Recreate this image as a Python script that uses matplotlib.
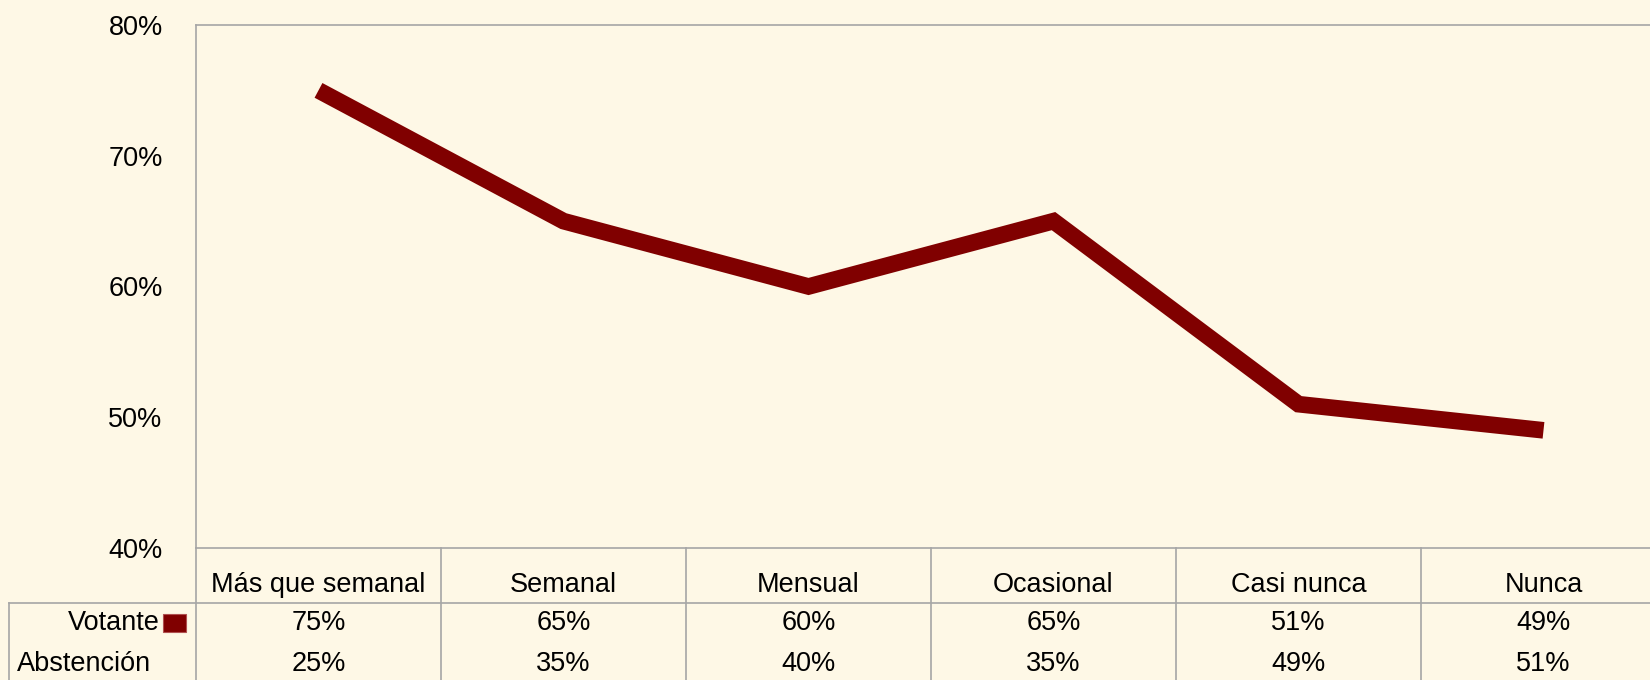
"""Votante / Abstención line chart with an Excel-style data table."""

import matplotlib
matplotlib.use("Agg")
import matplotlib.pyplot as plt
from matplotlib.transforms import blended_transform_factory
from matplotlib.lines import Line2D

categories = ["Más que semanal", "Semanal", "Mensual", "Ocasional", "Casi nunca", "Nunca"]
votante = [75, 65, 60, 65, 51, 49]
abstencion = [25, 35, 40, 35, 49, 51]
row_labels = ["Votante", "Abstención"]
y_ticks = [40, 50, 60, 70, 80]

BG = "#FEF8E6"
LINE = "#800000"
GRID = "#A6A6A6"
W, H = 1650, 680
FS = 19.5

plt.rcParams["font.family"] = ["Liberation Sans", "DejaVu Sans"]


def fy(px):
    return 1 - px / H


def fx(px):
    return px / W


fig = plt.figure(figsize=(W / 100, H / 100), dpi=100, facecolor=BG)
# plot area runs past the right edge, as in the original
ax = fig.add_axes([fx(196), fy(548), 6 * 245 / W, (548 - 25) / H])
ax.set_facecolor(BG)

x = list(range(len(categories)))
ax.plot(x, votante, color=LINE, linewidth=12, solid_capstyle="butt", solid_joinstyle="miter")

ax.set_xlim(-0.5, len(categories) - 0.5)
ax.set_ylim(40, 80)
ax.set_yticks(y_ticks)
ax.set_yticklabels([f"{v}%" for v in y_ticks], fontsize=FS)
ax.tick_params(axis="y", length=0, pad=24)
ax.set_xticks([])
for side in ["left", "top", "bottom"]:
    ax.spines[side].set_color(GRID)
    ax.spines[side].set_linewidth(1.2)
ax.spines["right"].set_visible(False)

# Data table below the plot.
tr = blended_transform_factory(ax.transData, fig.transFigure)
for b in range(len(categories) + 1):
    fig.add_artist(Line2D([b - 0.5, b - 0.5], [fy(548), 0], transform=tr, color=GRID, linewidth=1.2))
fig.add_artist(Line2D([fx(9), 1], [fy(603), fy(603)], transform=fig.transFigure, color=GRID, linewidth=1.2))
fig.add_artist(Line2D([fx(9), fx(9)], [fy(603), 0], transform=fig.transFigure, color=GRID, linewidth=1.2))

for i, cat in enumerate(categories):
    fig.text(i, fy(585), cat, transform=tr, ha="center", va="center", fontsize=FS)
    fig.text(i, fy(623), f"{votante[i]}%", transform=tr, ha="center", va="center", fontsize=FS)
    fig.text(i, fy(664), f"{abstencion[i]}%", transform=tr, ha="center", va="center", fontsize=FS)

fig.text(fx(160), fy(623), row_labels[0], ha="right", va="center", fontsize=FS)
fig.add_artist(plt.Rectangle((fx(163), fy(632)), fx(23), 18 / H, transform=fig.transFigure,
                             facecolor=LINE, edgecolor="#B05050", linewidth=0.8))
fig.text(fx(17), fy(664), row_labels[1], ha="left", va="center", fontsize=FS)

fig.savefig("out.png", dpi=100, facecolor=BG)
